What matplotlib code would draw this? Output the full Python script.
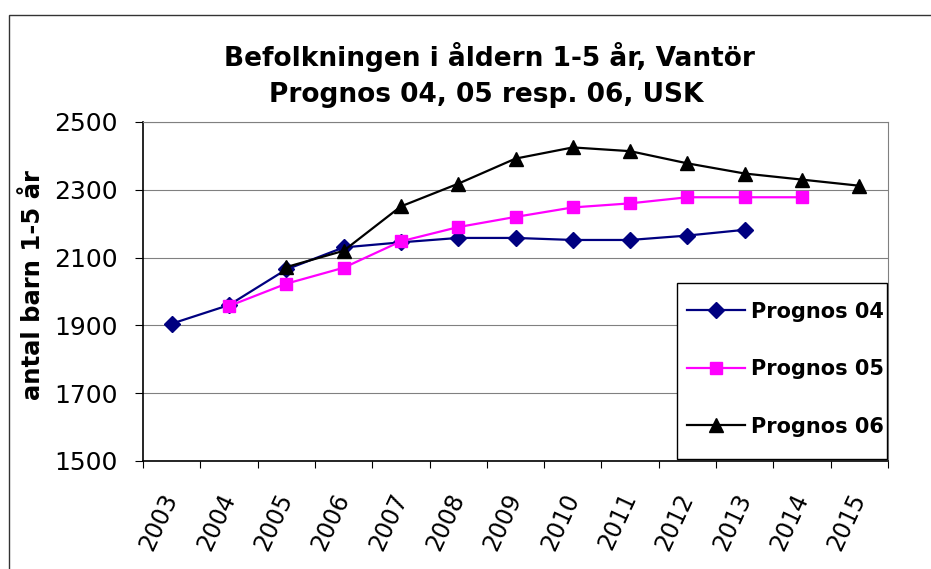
import numpy as np
import matplotlib.pyplot as plt
from matplotlib.patches import Rectangle

nan = np.nan

years = ["2003", "2004", "2005", "2006", "2007", "2008", "2009",
         "2010", "2011", "2012", "2013", "2014", "2015"]
prognos_04 = [1905, 1960, 2065, 2130, 2145, 2158, 2158, 2152, 2152, 2165, 2182, nan, nan]
prognos_05 = [nan, 1957, 2023, 2070, 2148, 2190, 2220, 2248, 2260, 2278, 2278, 2278, nan]
prognos_06 = [nan, nan, 2072, 2120, 2251, 2318, 2392, 2425, 2414, 2378, 2348, 2330, 2312]
y_ticks = [1500, 1700, 1900, 2100, 2300, 2500]

plt.rcParams['font.family'] = ['DejaVu Sans']

fig = plt.figure(figsize=(9.31, 5.69), dpi=100)
W, H = 931, 569
ax = fig.add_axes([143 / W, 1 - 461 / H, (888 - 143) / W, (461 - 122) / H])

x = np.arange(len(years))
ax.plot(x, prognos_04, color='#000080', lw=1.6, marker='D', ms=8.5, label='Prognos 04', zorder=3)
ax.plot(x, prognos_05, color='#FF00FF', lw=1.6, marker='s', ms=9, label='Prognos 05', zorder=4)
ax.plot(x, prognos_06, color='black', lw=1.6, marker='^', ms=10.5, label='Prognos 06', zorder=5)

ax.set_xlim(-0.5, len(years) - 0.5)
ax.set_ylim(1500, 2500)
ax.set_yticks(y_ticks)
ax.set_yticklabels([str(v) for v in y_ticks], fontsize=18)
ax.yaxis.grid(True, color='#808080', lw=0.8)
ax.set_axisbelow(True)

# tick marks between categories, labels at the centres
ax.set_xticks(np.arange(-0.5, len(years), 1.0))
ax.set_xticklabels([])
ax.set_xticks(x, minor=True)
ax.set_xticklabels(years, minor=True, fontsize=17)
ax.tick_params(axis='x', which='major', direction='out', length=5, width=0.8)
ax.tick_params(axis='x', which='minor', length=0, pad=24)
ax.tick_params(axis='y', direction='out', length=6, width=0.8, pad=12)
for lab in ax.get_xticklabels(minor=True):
    lab.set_rotation(65)
    lab.set_rotation_mode('anchor')
    lab.set_ha('right')
    lab.set_va('center')

for s in ['left', 'bottom']:
    ax.spines[s].set_color('black')
    ax.spines[s].set_linewidth(1.2)
for s in ['top', 'right']:
    ax.spines[s].set_color('#808080')
    ax.spines[s].set_linewidth(0.8)

ax.set_ylabel('antal barn 1-5 år', fontsize=17.5, fontweight='bold')
ax.yaxis.set_label_coords(45 / W, 1 - 285 / H, transform=fig.transFigure)

fig.text(489 / W, 1 - 57 / H, 'Befolkningen i åldern 1-5 år, Vantör',
         ha='center', va='center', fontsize=19, fontweight='bold')
fig.text(486 / W, 1 - 95 / H, 'Prognos 04, 05 resp. 06, USK',
         ha='center', va='center', fontsize=19, fontweight='bold')

# legend box drawn separately so its size matches the original
box = Rectangle((677 / W, 1 - 459 / H), (887 - 677) / W, (459 - 283) / H,
                transform=fig.transFigure, facecolor='white', edgecolor='black',
                lw=1.0, zorder=6)
ax.add_patch(box)
box.set_clip_on(False)
leg = ax.legend(loc='upper left', bbox_to_anchor=(668 / W, 1 - 283 / H),
                bbox_transform=fig.transFigure, frameon=False,
                borderpad=0.9, labelspacing=1.8,
                handlelength=2.8, handletextpad=0.3, borderaxespad=0,
                prop={'size': 15, 'weight': 'bold'})
leg.set_zorder(7)

# outer chart border (cut off on the right and bottom)
fig.patches.append(Rectangle((9 / W, -0.1), 1.2, 1 - 15 / H + 0.1, transform=fig.transFigure,
                             fill=False, edgecolor='#333333', lw=1.0))

fig.savefig('out.png', dpi=100)
